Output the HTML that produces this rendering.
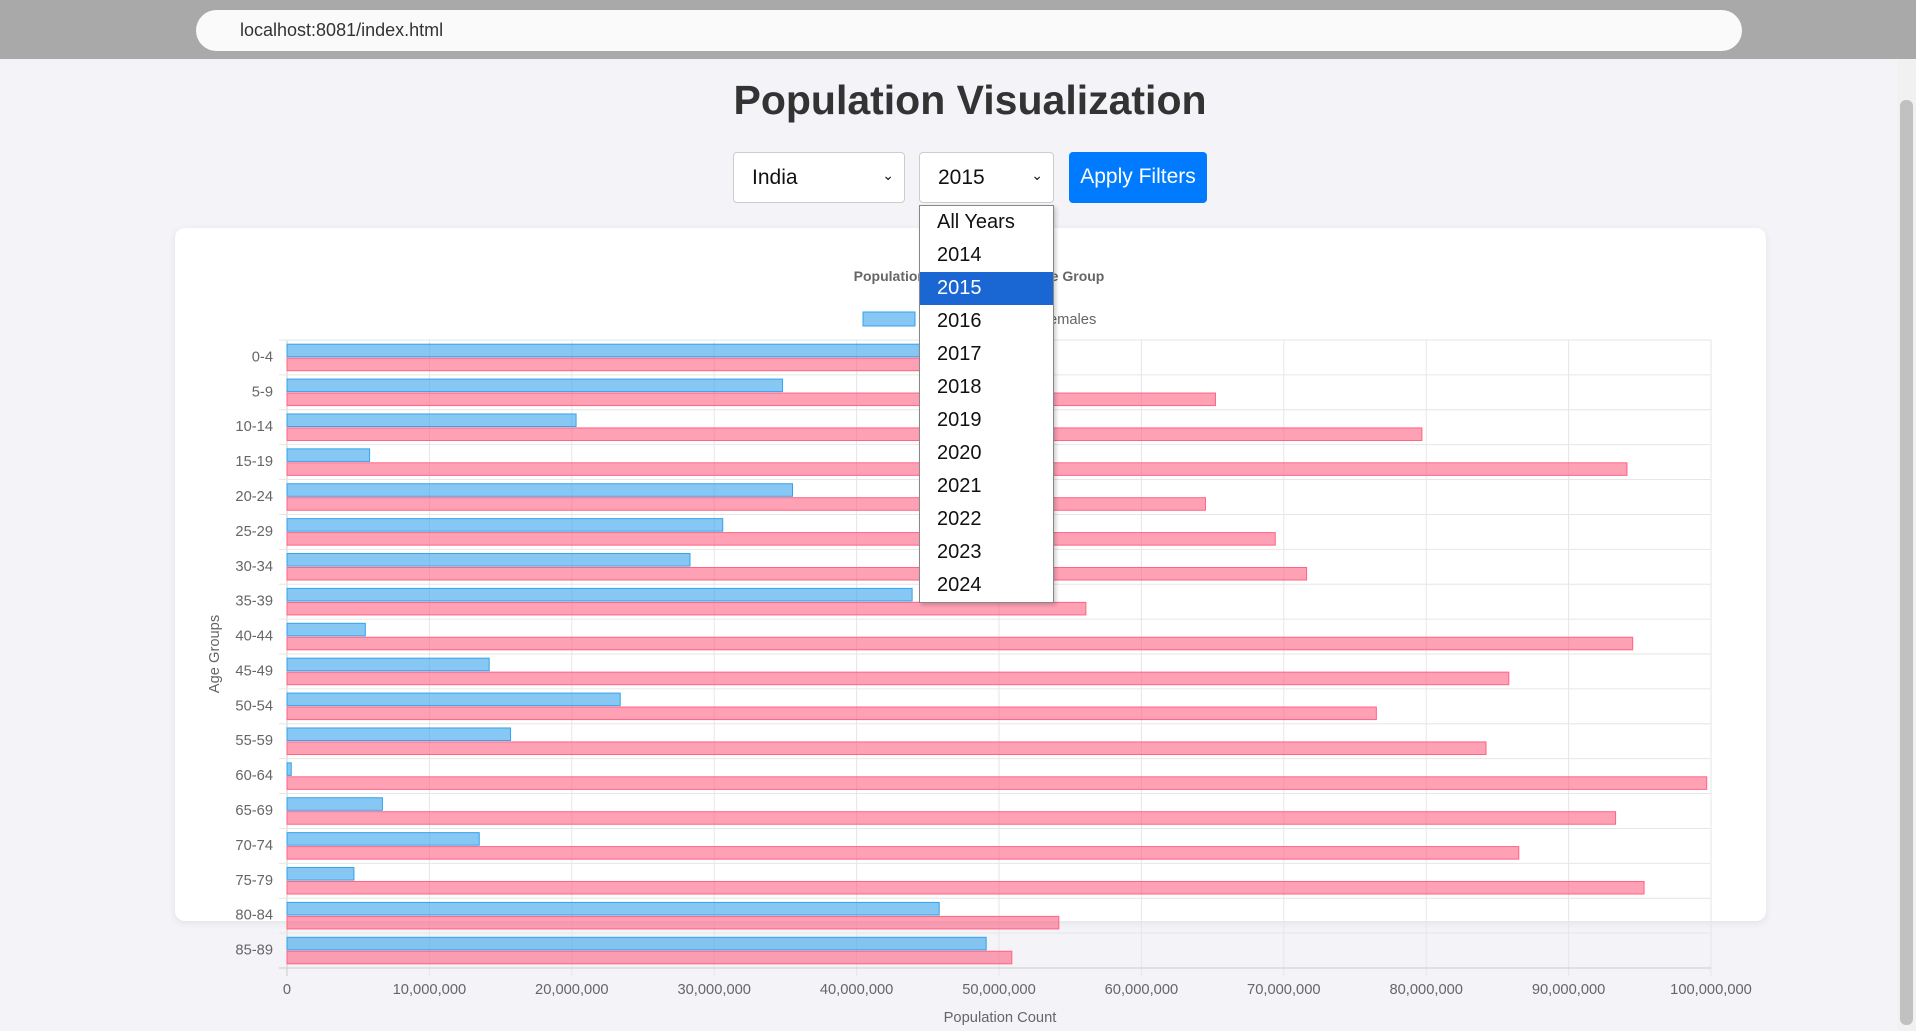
<!DOCTYPE html>
<html><head><meta charset="utf-8"><style>
*{box-sizing:border-box;margin:0;padding:0}
body{width:1916px;height:1031px;overflow:hidden;background:#f4f4f8;font-family:"Liberation Sans",Arial,sans-serif;position:relative}
.abs{position:absolute}
#chrome{left:0;top:0;width:1916px;height:59px;background:#a9a9a9}
#addr{left:196px;top:10px;width:1546px;height:41px;background:#fafafa;border-radius:21px;font-size:18px;color:#333;padding:10px 0 0 44px}
#title{left:0;width:1940px;top:77px;text-align:center;font-size:41px;font-weight:bold;color:#333}
.sel{top:152px;height:51px;background:#fff;border:1px solid #ccc;border-radius:4px;font-size:21px;color:#111;padding:13px 0 0 18px}
.sel span{position:absolute;right:10px;top:14px;font-size:14px}
#btn{left:1069px;top:152px;width:138px;height:51px;background:#007bff;border-radius:4px;color:#fff;font-size:21px;text-align:center;padding-top:13px}
#card{left:175px;top:228px;width:1591px;height:693px;background:#fff;border-radius:10px;box-shadow:0 2px 8px rgba(0,0,0,.08)}
#dd{left:919px;top:205px;width:135px;height:398px;background:#fff;border:1px solid #888;box-shadow:2px 2px 4px rgba(0,0,0,.2);z-index:5}
.opt{height:33px;font-size:20px;color:#111;padding:5px 0 0 17px}
.opt.on{background:#1a66d2;color:#fff}
#scroll{left:1897px;top:59px;width:19px;height:972px;background:#f1f1f1}
#thumb{left:1900px;top:100px;width:13px;height:925px;background:#c1c1c1;border-radius:6px}
</style></head><body>
<div id="chrome" class="abs"></div>
<div id="addr" class="abs">localhost:8081/index.html</div>
<div id="scroll" class="abs"></div>
<div id="thumb" class="abs"></div>
<div id="title" class="abs">Population Visualization</div>
<div class="abs sel" style="left:733px;width:172px">India<span>&#8964;</span></div>
<div class="abs sel" style="left:919px;width:135px">2015<span>&#8964;</span></div>
<div id="btn" class="abs">Apply Filters</div>
<div id="card" class="abs"></div>
<svg class="abs" style="left:0;top:0" width="1916" height="1031">
<g id="grid"></g><g id="bars"></g><g id="labels"></g>
<text x="979" y="281" text-anchor="middle" font-size="14" font-weight="bold" fill="#666">Population Distribution by Age Group</text>
<rect x="863" y="312" width="52" height="14" fill="rgba(54,162,235,0.6)" stroke="#36a2eb"/>
<text x="921" y="324" font-size="14.7" fill="#666">Males</text>
<rect x="982" y="312" width="52" height="14" fill="rgba(255,99,132,0.6)" stroke="#ff6384"/>
<text x="1040" y="324" font-size="14.7" fill="#666">Females</text>
<text x="1000" y="1022" text-anchor="middle" font-size="14.7" fill="#666">Population Count</text>
<text transform="translate(219,654) rotate(-90)" text-anchor="middle" font-size="14.7" fill="#666">Age Groups</text>
</svg>
<div id="dd" class="abs">
<div class="opt">All Years</div>
<div class="opt">2014</div>
<div class="opt on">2015</div>
<div class="opt">2016</div>
<div class="opt">2017</div>
<div class="opt">2018</div>
<div class="opt">2019</div>
<div class="opt">2020</div>
<div class="opt">2021</div>
<div class="opt">2022</div>
<div class="opt">2023</div>
<div class="opt">2024</div>
</div>
<script>
const categories=["0-4","5-9","10-14","15-19","20-24","25-29","30-34","35-39","40-44","45-49","50-54","55-59","60-64","65-69","70-74","75-79","80-84","85-89"];
const males=[47.5,34.8,20.3,5.8,35.5,30.6,28.3,43.9,5.5,14.2,23.4,15.7,0.3,6.7,13.5,4.7,45.8,49.1];
const females=[52.5,65.2,79.7,94.1,64.5,69.4,71.6,56.1,94.5,85.8,76.5,84.2,99.7,93.3,86.5,95.3,54.2,50.9];
const xTicks=[0,10,20,30,40,50,60,70,80,90,100];
const NS="http://www.w3.org/2000/svg";
const L=287,R=1711,T=340,B=968,MAX=100;
const band=(B-T)/categories.length;
const x=v=>L+(R-L)*v/MAX;
const y=i=>T+band*i;
function mk(tag,a,parent){const e=document.createElementNS(NS,tag);for(const k in a)e.setAttribute(k,a[k]);document.getElementById(parent).appendChild(e);return e;}
xTicks.forEach(t=>{
 const l=mk('line',{x1:x(t),x2:x(t),y1:T,y2:B+8,stroke:t===0?'#ccc':'#e6e6e6'},'grid');
 
 
 const tx=mk('text',{x:x(t),y:994,'text-anchor':'middle','font-size':14.7,fill:'#666'},'labels');
 tx.textContent=t===0?'0':(t*1000000).toLocaleString('en-US');
 
 
});
for(let i=0;i<=categories.length;i++){
 const l=mk('line',{x1:L-8,x2:R,y1:y(i),y2:y(i),stroke:i===categories.length?'#ccc':'#e6e6e6'},'grid');
 
 
}
const bh=band*0.8/2*0.9;
categories.forEach((c,i)=>{
 const y0=y(i)+band*0.1;
 const m=mk('rect',{x:L,y:y0+band*0.4*0.05,width:x(males[i])-L,height:bh,fill:'rgba(54,162,235,0.6)',stroke:'#36a2eb','stroke-width':1},'bars');
 
 
 const f=mk('rect',{x:L,y:y0+band*0.4+band*0.4*0.05,width:x(females[i])-L,height:bh,fill:'rgba(255,99,132,0.6)',stroke:'#ff6384','stroke-width':1},'bars');
 
 
 const t=mk('text',{x:273,y:y(i)+band/2+4,'text-anchor':'end','font-size':14.7,fill:'#666'},'labels');
 t.textContent=c;
 
 
});
</script>
</body></html>
